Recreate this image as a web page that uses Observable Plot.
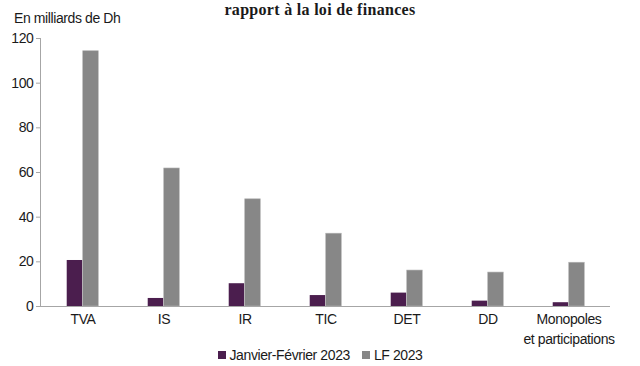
<!DOCTYPE html>
<html>
<head>
<meta charset="utf-8">
<script src="https://cdn.jsdelivr.net/npm/d3@7"></script>
<script src="https://cdn.jsdelivr.net/npm/@observablehq/plot@0.6"></script>
<style>
  html, body { margin: 0; padding: 0; background: #fff; }
  #wrap { position: relative; width: 640px; height: 366px; overflow: hidden; font-family: "Liberation Sans", sans-serif; color: #1a1a1a; letter-spacing: -0.4px; }
  #title { position: absolute; left: 0; width: 640px; top: 1px; text-align: center; font-family: "Liberation Serif", serif; font-weight: bold; font-size: 16px; line-height: 18px; letter-spacing: 0.3px; }
  #ylabel { position: absolute; left: 14px; top: 10px; font-size: 14px; line-height: 16px; }
  #legend { position: absolute; left: 0; width: 640px; top: 347px; font-size: 14px; line-height: 16px; display: flex; justify-content: center; gap: 12px; }
  #legend span.item { display: inline-flex; align-items: center; }
  #legend span.sw { display: inline-block; width: 8px; height: 8px; margin-right: 4px; }
  #chart { position: absolute; left: 0; top: 0; }
</style>
</head>
<body>
<div id="wrap">
  <div id="title">rapport à la loi de finances</div>
  <div id="ylabel">En milliards de Dh</div>
  <div id="chart"></div>
  <div id="legend"></div>
</div>
<script>
const categories = ["TVA", "IS", "IR", "TIC", "DET", "DD", "Monopoles\net participations"];
const seriesNames = ["Janvier-Février 2023", "LF 2023"];
const janvierFevrier2023 = [20.6, 3.6, 10.2, 4.9, 6.0, 2.4, 1.7];
const lf2023 = [114.3, 61.8, 48.0, 32.6, 16.1, 15.2, 19.6];
const yTicks = [0, 20, 40, 60, 80, 100, 120];
const colors = ["#4b1e4e", "#878787"];

const rows1 = categories.map((c, i) => ({category: c, series: seriesNames[0], value: janvierFevrier2023[i]}));
const rows2 = categories.map((c, i) => ({category: c, series: seriesNames[1], value: lf2023[i]}));

const W = 640, H = 350;
const mLeft = 40, mRight = 30, mTop = 38, mBottom = 44;
const bandW = (W - mLeft - mRight) / categories.length;
const barW = 16;
const side = bandW / 2 - barW;

const chart = Plot.plot({
  width: W,
  height: H,
  marginLeft: mLeft,
  marginRight: mRight,
  marginTop: mTop,
  marginBottom: mBottom,
  style: {fontFamily: "'Liberation Sans', sans-serif", fontSize: "14px", color: "#1a1a1a", background: "transparent", letterSpacing: "-0.4px"},
  x: {domain: categories, padding: 0},
  y: {domain: [0, 120]},
  marks: [
    Plot.barY(rows1, {x: "category", y: "value", fill: colors[0], insetLeft: side, insetRight: bandW / 2}),
    Plot.barY(rows2, {x: "category", y: "value", fill: colors[1], stroke: "#b5b5b5", strokeWidth: 0.6, insetLeft: bandW / 2, insetRight: side}),
    Plot.frame({anchor: "left", stroke: "#a6a6a6"}),
    Plot.ruleY([0], {stroke: "#a6a6a6"}),
    Plot.axisY({ticks: yTicks, tickSize: 4, tickPadding: 3, stroke: "#a6a6a6", label: null, fill: "#1a1a1a", fontSize: 14}),
    Plot.axisX({tickSize: 0, tickPadding: 4, label: null, fill: "#1a1a1a", fontSize: 14, lineHeight: 1.4})
  ]
});
document.getElementById("chart").appendChild(chart);

const legend = document.getElementById("legend");
seriesNames.forEach((s, i) => {
  const item = document.createElement("span");
  item.className = "item";
  const sw = document.createElement("span");
  sw.className = "sw";
  sw.style.background = colors[i];
  item.appendChild(sw);
  item.appendChild(document.createTextNode(s));
  legend.appendChild(item);
});
</script>
</body>
</html>
